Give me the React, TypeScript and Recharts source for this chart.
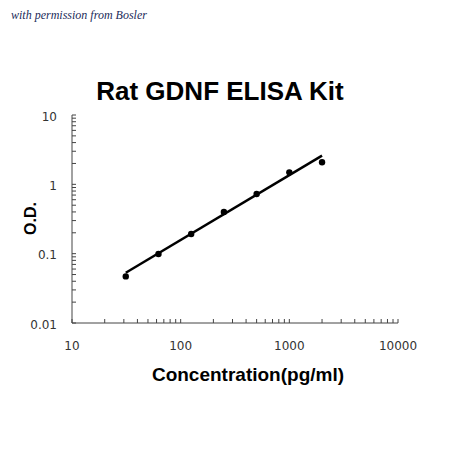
import React from 'react';
import { ComposedChart, XAxis, YAxis, Scatter } from 'recharts';

const concentrations = [31.25, 62.5, 125, 250, 500, 1000, 2000];
const odValues = [0.047, 0.099, 0.192, 0.399, 0.726, 1.49, 2.08];
const fitConcentrations = [31.25, 2000];
const fitOd = [0.053, 2.59];
const xMajorTicks = [10, 100, 1000, 10000];
const yMajorTicks = [0.01, 0.1, 1, 10];
const xTickLabels = ['10', '100', '1000', '10000'];
const yTickLabels = ['0.01', '0.1', '1', '10'];

const points = concentrations.map((c, i) => ({ x: c, y: odValues[i] }));
const fit = fitConcentrations.map((c, i) => ({ x: c, y: fitOd[i] }));

const withMinor = (majors: number[]) => {
  const out: number[] = [];
  majors.forEach((m, i) => {
    if (i === majors.length - 1) {
      out.push(m);
      return;
    }
    for (let k = 1; k <= 9; k++) out.push(+(m * k).toPrecision(6));
  });
  return out;
};
const xTicks = withMinor(xMajorTicks);
const yTicks = withMinor(yMajorTicks);

const axisColor = '#444';
const labelFont = '"DejaVu Sans", sans-serif';

const XTick = (props: any) => {
  const { x, y, payload } = props;
  const idx = xMajorTicks.findIndex((m) => Math.abs(m - payload.value) < 1e-9);
  return (
    <g>
      <line x1={x} y1={y} x2={x} y2={y - 4} stroke={axisColor} strokeWidth={1} />
      {idx >= 0 && (
        <text x={x} y={y + 27} textAnchor="middle" fontSize={12} fontFamily={labelFont} fill="#333">
          {xTickLabels[idx]}
        </text>
      )}
    </g>
  );
};

const YTick = (props: any) => {
  const { x, y, payload } = props;
  const idx = yMajorTicks.findIndex((m) => Math.abs(m - payload.value) < 1e-12);
  return (
    <g>
      <line x1={x} y1={y} x2={x + 4} y2={y} stroke={axisColor} strokeWidth={1} />
      {idx >= 0 && (
        <text x={x - 15} y={y + 5.5} textAnchor="end" fontSize={12} fontFamily={labelFont} fill="#333">
          {yTickLabels[idx]}
        </text>
      )}
    </g>
  );
};

const Dot = (props: any) => {
  const { cx, cy } = props;
  return <circle cx={cx} cy={cy} r={3.2} fill="#000" />;
};
const NoDot = () => <g />;

export default function App() {
  return (
    <div style={{ position: 'absolute', left: 0, top: 0, width: 450, height: 449, background: '#fff' }}>
      <ComposedChart
        width={450}
        height={449}
        margin={{ top: 115, right: 52, bottom: 96, left: 12 }}
      >
        <XAxis
          type="number"
          dataKey="x"
          scale="log"
          domain={[10, 10000]}
          ticks={xTicks}
          interval={0}
          allowDataOverflow
          height={30}
          tickSize={0}
          tickMargin={0}
          tick={<XTick />}
          axisLine={{ stroke: axisColor, strokeWidth: 1 }}
          tickLine={false}
        />
        <YAxis
          type="number"
          dataKey="y"
          scale="log"
          domain={[0.01, 10]}
          ticks={yTicks}
          interval={0}
          allowDataOverflow
          width={60}
          tickSize={0}
          tickMargin={0}
          tick={<YTick />}
          axisLine={{ stroke: axisColor, strokeWidth: 1 }}
          tickLine={false}
        />
        <Scatter
          data={fit}
          line={{ stroke: '#000', strokeWidth: 2.5 }}
          shape={<NoDot />}
          isAnimationActive={false}
        />
        <Scatter data={points} shape={<Dot />} isAnimationActive={false} />
      </ComposedChart>
      <svg
        width={450}
        height={449}
        style={{ position: 'absolute', left: 0, top: 0, pointerEvents: 'none' }}
      >
        <text
          x={11}
          y={19}
          fontSize={12}
          fontStyle="italic"
          fontFamily='"Liberation Serif", serif'
          fill="#1c2b5a"
        >
          with permission from Bosler
        </text>
        <text
          x={220}
          y={100}
          textAnchor="middle"
          fontSize={26}
          fontWeight="bold"
          fontFamily='"Liberation Sans", Arial, sans-serif'
          fill="#000"
        >
          Rat GDNF ELISA Kit
        </text>
        <text
          x={248}
          y={381}
          textAnchor="middle"
          fontSize={19}
          fontWeight="bold"
          fontFamily='"Liberation Sans", Arial, sans-serif'
          fill="#000"
        >
          Concentration(pg/ml)
        </text>
        <text
          x={35.7}
          y={218.5}
          transform="rotate(-90 35.7 218.5)"
          textAnchor="middle"
          fontSize={16}
          fontWeight="bold"
          fontFamily='"Liberation Sans", Arial, sans-serif'
          fill="#000"
        >
          O.D.
        </text>
      </svg>
    </div>
  );
}
